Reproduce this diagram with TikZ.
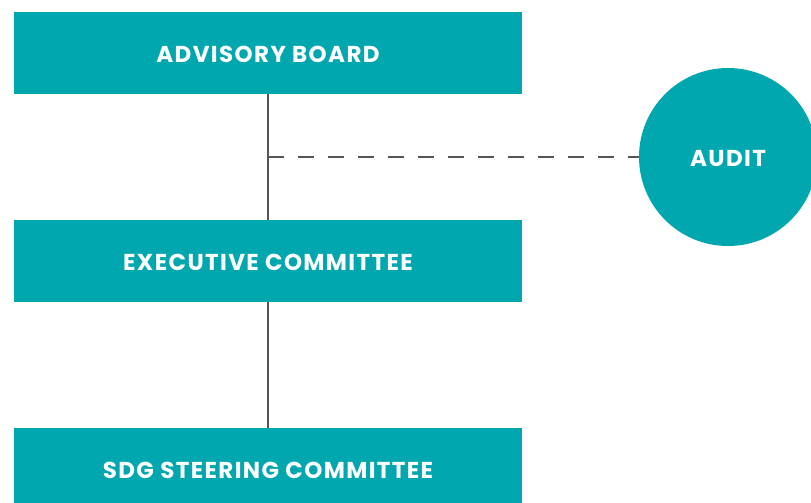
\documentclass[tikz,border=0pt]{standalone}
\usepackage{fontspec}
\setmainfont{Poppins}[LetterSpace=6]
\usepackage{tikz}
\usetikzlibrary{shapes,arrows}
\definecolor{Teal}{RGB}{0,167,174}
\definecolor{LineGrey}{RGB}{85,85,85}
\tikzstyle{board} = [rectangle, minimum width=508pt, minimum height=82pt, fill = Teal, text = white, font=\bfseries\fontsize{23}{26}\selectfont, text height=19.5pt, text depth=0pt, inner sep=0pt]
\tikzstyle{check} = [circle, minimum size=178pt, fill = Teal, text = white, font=\bfseries\fontsize{23}{26}\selectfont, text height=19.5pt, text depth=0pt, inner sep=0pt]
\tikzstyle{line} = [draw, LineGrey, line width=2pt]

\begin{document}
\begin{tikzpicture}[x=1pt, y=-1pt, node distance = 208pt]
    \useasboundingbox (0,0) rectangle (811,503);

    \node (advisory) [board] at (268,53) {ADVISORY BOARD};
    \node (exec)     [board, below of = advisory] {EXECUTIVE COMMITTEE};
    \node (sdg)      [board, below of = exec]     {SDG STEERING COMMITTEE};
    \node (audit)    [check] at (728,157)         {AUDIT};
    \coordinate (tap) at (advisory.south |- audit.west);
    \path [line]   (advisory) -- (exec);
    \path [line]   (exec)     -- (sdg);
    \path [line, dash pattern=on 16pt off 14pt] (tap) -- (audit);
\end{tikzpicture}
\end{document}
